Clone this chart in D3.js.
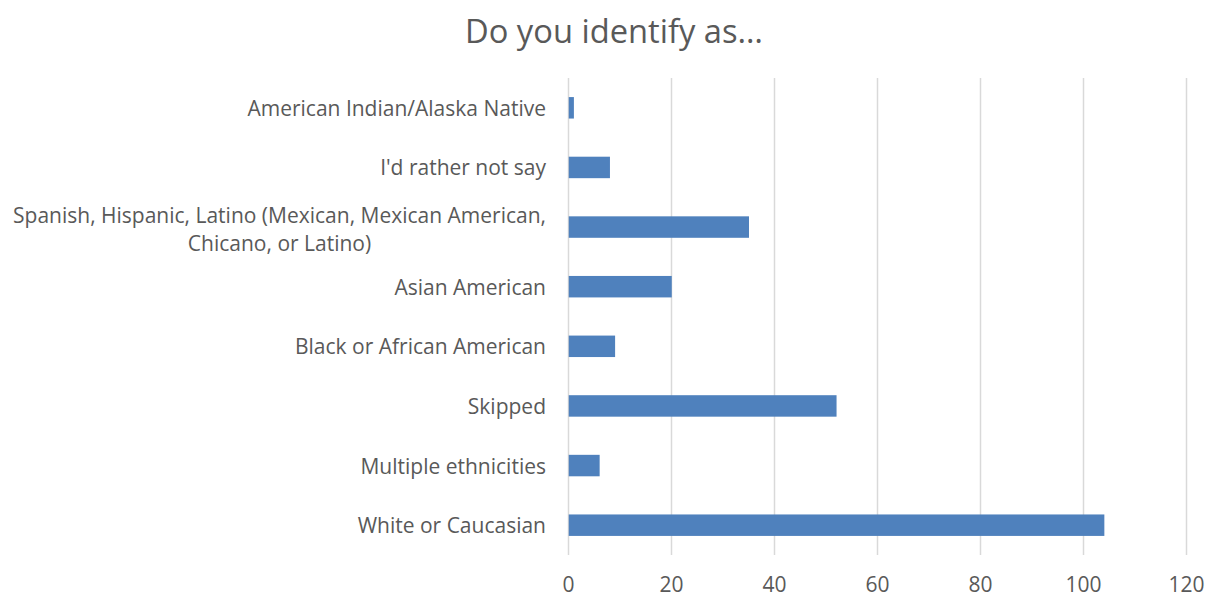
<!DOCTYPE html>
<html>
<head>
<meta charset="utf-8">
<script src="https://cdn.jsdelivr.net/npm/d3@7"></script>
<style>
  body { margin: 0; background: #fff; }
  svg { display: block; font-family: "Open Sans", sans-serif; }
</style>
</head>
<body>
<svg id="chart" width="1212" height="599"></svg>
<script>
const title = "Do you identify as…";
const categories = [
  "American Indian/Alaska Native",
  "I'd rather not say",
  "Spanish, Hispanic, Latino (Mexican, Mexican American,|Chicano, or Latino)",
  "Asian American",
  "Black or African American",
  "Skipped",
  "Multiple ethnicities",
  "White or Caucasian"
];
const values = [1, 8, 35, 20, 9, 52, 6, 104];
const xTicks = [0, 20, 40, 60, 80, 100, 120];

const svg = d3.select("#chart");
const margin = { left: 568, right: 26, top: 78, bottom: 44 };
const W = 1212, H = 599;
const FS = 21;

const x = d3.scaleLinear().domain([0, 120]).range([margin.left, W - margin.right]);
const y = d3.scaleBand().domain(d3.range(categories.length))
  .range([margin.top, H - margin.bottom]).paddingInner(0.64).paddingOuter(0.32);

// Title
svg.append("text")
  .attr("x", 614).attr("y", 30)
  .attr("dominant-baseline", "central")
  .attr("text-anchor", "middle")
  .attr("fill", "#595959")
  .attr("font-size", 32.7)
  .text(title);

// Gridlines
const grid = svg.append("g")
  .attr("transform", `translate(0,${H - margin.bottom})`)
  .call(d3.axisBottom(x).tickValues(xTicks).tickSize(-(H - margin.bottom - margin.top)).tickFormat(""));
grid.select(".domain").remove();
grid.selectAll("line").attr("stroke", "#d9d9d9").attr("stroke-width", 1.5);

// Tick labels
const xa = svg.append("g")
  .attr("transform", `translate(0,${H - margin.bottom})`)
  .call(d3.axisBottom(x).tickValues(xTicks).tickSize(0).tickPadding(0));
xa.select(".domain").remove();
xa.selectAll("text")
  .attr("fill", "#595959").attr("font-size", FS).attr("font-family", "Open Sans, sans-serif")
  .attr("dy", null).attr("y", 584 - (H - margin.bottom)).attr("dominant-baseline", "central");

// Bars
svg.append("g").selectAll("rect")
  .data(values)
  .join("rect")
  .attr("x", x(0) + 0.75)
  .attr("y", (d, i) => y(i))
  .attr("width", d => x(d) - x(0))
  .attr("height", y.bandwidth())
  .attr("fill", "#4f81bd");

// Category labels
const labels = svg.append("g");
categories.forEach((c, i) => {
  const lines = c.split("|");
  const cy = y(i) + y.bandwidth() / 2;
  const lh = 28;
  const t = labels.append("text")
    .attr("fill", "#595959")
    .attr("font-size", FS)
    .attr("dominant-baseline", "central");
  if (lines.length === 1) {
    t.attr("x", 546).attr("y", cy).attr("text-anchor", "end").text(c);
  } else {
    const tmp = labels.append("text").attr("font-size", FS).text(lines[0]);
    const w = tmp.node().getComputedTextLength();
    tmp.remove();
    const mid = 546 - w / 2;
    lines.forEach((ln, k) => {
      t.append("tspan")
        .attr("x", mid)
        .attr("y", cy + 2 + (k - (lines.length - 1) / 2) * lh)
        .attr("text-anchor", "middle")
        .text(ln);
    });
  }
});
</script>
</body>
</html>
